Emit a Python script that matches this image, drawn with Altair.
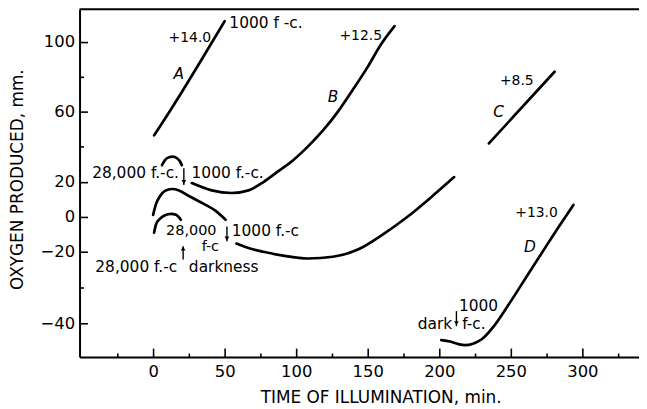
import altair as alt
import pandas as pd

# ---------------- curves (time, min ; oxygen, mm) ----------------
a_t = [0.7, 11.1, 21.5, 35.4, 50.0]
a_o = [46.6, 59.7, 73.3, 92.0, 111.9]

b_t = [27.1, 41.0, 54.9, 66.7, 77.1, 87.5, 97.9, 108.3, 118.75, 129.2, 139.6, 150.0, 159.0, 168.75]
b_o = [19.3, 15.1, 13.6, 15.1, 19.9, 26.1, 32.4, 40.3, 49.4, 60.2, 72.7, 85.8, 98.3, 109.1]

arc_t = [6.25, 8.3, 11.1, 13.9, 16.7, 18.75, 20.1]
arc_o = [29.5, 32.4, 34.1, 34.4, 33.5, 31.8, 29.5]

m1_t = [0.0, 2.1, 4.9, 8.3, 13.2, 18.1, 25.0, 35.4, 43.75, 50.7]
m1_o = [1.1, 7.4, 11.9, 14.8, 15.9, 15.1, 11.9, 7.4, 3.4, -1.7]

m2_t = [58.3, 66.7, 77.1, 91.0, 108.3, 125.7, 143.1, 160.4, 177.8, 193.75, 210.4]
m2_o = [-15.3, -17.9, -20.0, -21.1, -21.9, -21.4, -18.75, -10.2, 0.0, 10.8, 22.7]

low_t = [0.7, 2.1, 4.9, 8.3, 12.5, 16.0, 19.4]
low_o = [-9.1, -4.3, -1.1, 0.85, 1.7, 1.1, -1.7]

c_t = [234.7, 280.6]
c_o = [42.0, 83.0]

d_t = [201.4, 207.6, 213.2, 218.1, 223.6, 229.9, 238.2, 248.6, 261.1, 272.2, 284.0, 293.75]
d_o = [-44.7, -45.1, -45.8, -46.1, -45.7, -44.4, -40.8, -34.7, -26.9, -20.0, -5.1, 6.8]

# ---------------- annotations ----------------
lab_text = ["+14.0", "+12.5", "+8.5", "+13.0", "1000", "28,000", "f-c",
            "1000 f -c.", "f-c.", "1000 f.-c.", "1000 f.-c", "darkness",
            "dark", "28,000 f.-c.", "28,000 f.-c",
            "A", "B", "C", "D"]
lab_t = [25.7, 145.1, 254.2, 268.0, 227.4, 26.7, 40.0,
         53.3, 216.0, 26.9, 55.0, 25.0,
         209.0, 18.1, 16.9,
         18.0, 125.7, 241.5, 263.4]
lab_o = [102.3, 103.4, 77.8, 2.3, -35.2, -7.95, -17.3,
         111.0, -40.3, 25.0, -8.35, -24.2,
         -40.3, 24.8, -24.25,
         81.8, 68.75, 59.8, -17.2]
lab_kind = ["center"] * 7 + ["left"] * 5 + ["right"] * 3 + ["italic"] * 4
lab_size = [14, 14, 14, 14, 15.5, 14.5, 14.5,
            15.5, 15.5, 15.5, 15.5, 15.5,
            15.5, 15.5, 15.5,
            15.5, 15.5, 15.5, 15.5]

arrow_t = [21.5, 51.6, 21.0, 212.0]
arrow_from = [27.8, -5.5, -22.2, -36.6]
arrow_to = [18.2, -14.0, -16.9, -40.8]
arrow_head = [19.9, -12.5, -18.2, -40.0]
arrow_shape = ["triangle-down", "triangle-down", "triangle-up", "triangle-down"]

# axis values
x_major = [0, 50, 100, 150, 200, 250, 300]
x_ticks = [-25, 0, 25, 50, 75, 100, 125, 150, 175, 200, 225, 250, 275, 300, 325]
y_major = [100, 60, 20, 0, -20, -40]
y_ticks = [100, 80, 60, 40, 20, 0, -20, -30, -40]

# ---------------- tables ----------------
series = [("A", a_t, a_o), ("B", b_t, b_o), ("arc", arc_t, arc_o), ("m1", m1_t, m1_o),
          ("m2", m2_t, m2_o), ("low", low_t, low_o), ("C", c_t, c_o), ("D", d_t, d_o)]
rows = []
for name, ts, vs in series:
    for i, (t, v) in enumerate(zip(ts, vs)):
        rows.append({"series": name, "t": t, "o": v, "i": i})
lines_df = pd.DataFrame(rows)

labels_df = pd.DataFrame({"text": lab_text, "t": lab_t, "o": lab_o,
                          "kind": lab_kind, "fs": lab_size})
arrows_df = pd.DataFrame({"t": arrow_t, "y0": arrow_from, "y1": arrow_to,
                          "yh": arrow_head, "shape": arrow_shape})

W, H = 563, 350
FONT = "DejaVu Sans"

xs = alt.Scale(domain=[-51.4, 339.6], nice=False, zero=False)
ys = alt.Scale(domain=[-49.44, -20, 118.75], range=[H, 244, 0], nice=False, zero=False)

x_main = alt.Axis(orient="bottom", values=x_major, ticks=False, tickSize=0, grid=False,
                  labelPadding=15, labelBaseline="middle", labelFontSize=16.5,
                  domainWidth=2, title="TIME OF ILLUMINATION, min.",
                  titleX=303, titleY=41, titleBaseline="middle", titleAlign="center",
                  titleFontSize=17)
y_main = alt.Axis(orient="left", values=y_major, ticks=False, tickSize=0, grid=False,
                  labelPadding=5, labelFontSize=16.5, domainWidth=2,
                  title="OXYGEN PRODUCED, mm.", titleX=-62, titleY=171,
                  titleAngle=270, titleBaseline="middle", titleAlign="center",
                  titleFontSize=17)

x_ticks_axis = alt.Axis(orient="top", offset=-H, values=x_ticks, labels=False, domain=False,
                        grid=False, title=None, ticks=True, tickWidth=1.6,
                        tickSize={"condition": {"test": "datum.value % 50 === 0", "value": 9},
                                  "value": 4})
y_ticks_axis = alt.Axis(orient="right", offset=-W, values=y_ticks, labels=False, domain=False,
                        grid=False, title=None, ticks=True, tickWidth=1.6,
                        tickSize={"condition": {"test": "indexof([100,60,20,0,-20,-40], datum.value) >= 0",
                                                "value": 8},
                                  "value": 4})

lines = alt.Chart(lines_df).mark_line(
    color="black", strokeWidth=2.7, interpolate="monotone", strokeCap="round"
).encode(
    x=alt.X("t:Q", scale=xs, axis=x_main),
    y=alt.Y("o:Q", scale=ys, axis=y_main),
    detail="series:N",
    order="i:Q",
)


def text_layer(kind, align, italic=False, axes=False):
    kw = dict(font=FONT, color="black", align=align, baseline="middle")
    if italic:
        kw["fontStyle"] = "italic"
    xa = x_ticks_axis if axes else None
    ya = y_ticks_axis if axes else None
    return alt.Chart(labels_df).transform_filter(
        alt.datum.kind == kind
    ).mark_text(**kw).encode(
        x=alt.X("t:Q", scale=xs, axis=xa),
        y=alt.Y("o:Q", scale=ys, axis=ya),
        text="text:N",
        size=alt.Size("fs:Q", scale=None),
    )


t_center = text_layer("center", "center", axes=True)
t_left = text_layer("left", "left")
t_right = text_layer("right", "right")
t_ital = text_layer("italic", "center", italic=True)

arrow_lines = alt.Chart(arrows_df).mark_rule(color="black", strokeWidth=1.4).encode(
    x=alt.X("t:Q", scale=xs, axis=None),
    y=alt.Y("y0:Q", scale=ys, axis=None),
    y2="y1:Q",
)
arrow_heads = alt.Chart(arrows_df).mark_point(
    filled=True, color="black", opacity=1, size=22
).encode(
    x=alt.X("t:Q", scale=xs, axis=None),
    y=alt.Y("yh:Q", scale=ys, axis=None),
    shape=alt.Shape("shape:N", scale=None),
)

frame_top = alt.Chart(pd.DataFrame({"k": [0]})).mark_rule(color="black", strokeWidth=2).encode(
    x=alt.value(0), x2=alt.value(W), y=alt.value(0)
)

chart = alt.layer(
    lines, t_center, t_left, t_right, t_ital, arrow_lines, arrow_heads, frame_top
).resolve_axis(
    x="independent", y="independent"
).properties(
    width=W, height=H,
    padding={"left": 72, "top": 0, "right": 0, "bottom": 53},
    autosize=alt.AutoSizeParams(type="none"),
    background="white",
).configure_view(
    stroke=None
).configure_axis(
    labelFont=FONT, titleFont=FONT, labelColor="black", titleColor="black",
    titleFontWeight="normal", domainColor="black", tickColor="black",
)

chart.save("out.html", embed_options={"renderer": "svg", "actions": False})
